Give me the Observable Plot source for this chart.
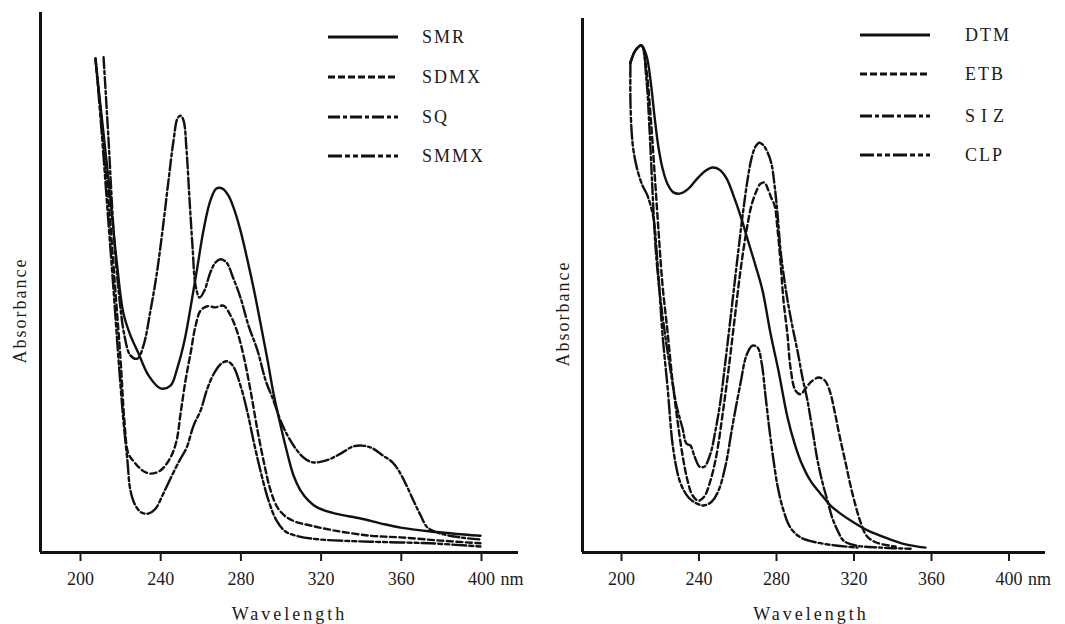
<!DOCTYPE html>
<html><head><meta charset="utf-8">
<script src="https://cdn.jsdelivr.net/npm/d3@7"></script>
<script src="https://cdn.jsdelivr.net/npm/@observablehq/plot@0.6"></script>
<style>
body{margin:0;background:#fff;}
#wrap{position:relative;width:1065px;height:624px;display:flex;font-family:"Liberation Serif","Times New Roman",Times,"DejaVu Serif",serif;color:#1a1a1a;background:#fff;}
.leg{position:absolute;height:20px;display:flex;align-items:center;font-size:18px;letter-spacing:2px;line-height:20px;}
.leg svg{display:block;}
svg text{font-family:"Liberation Serif","Times New Roman",Times,"DejaVu Serif",serif;}
</style></head><body><div id="wrap"></div>
<script>
// ---- data (wavelength in nm, absorbance in arbitrary units) ----
const ticks = [200, 240, 280, 320, 360, 400];
const leftNames = ["SMR", "SDMX", "SQ", "SMMX"];
const rightNames = ["DTM", "ETB", "SIZ", "CLP"];

const SMR_nm = [207.5,214.0,218.0,221.4,224.9,228.9,233.9,239.9,244.9,248.4,251.9,254.9,258.4,261.3,264.8,267.8,270.8,273.8,276.3,279.8,283.3,286.8,289.8,293.3,296.3,299.8,303.2,306.2,309.7,313.7,318.2,327.2,339.7,349.6,359.6,374.6,399.5];
const SMR_abs = [0.911,0.689,0.541,0.443,0.402,0.369,0.328,0.304,0.309,0.343,0.393,0.454,0.531,0.596,0.652,0.674,0.674,0.661,0.639,0.596,0.541,0.481,0.424,0.356,0.294,0.235,0.183,0.143,0.115,0.096,0.083,0.072,0.063,0.054,0.046,0.039,0.031];

const SDMX_nm = [207.5,211.0,214.0,217.0,220.0,221.9,223.9,226.9,230.9,234.9,239.9,244.9,247.9,249.9,252.4,254.9,257.4,259.9,263.3,267.3,271.3,274.8,278.3,281.3,284.8,288.3,291.8,294.8,298.3,302.2,307.2,314.7,326.2,344.6,359.6,379.6,399.5];
const SDMX_abs = [0.915,0.781,0.652,0.504,0.356,0.244,0.183,0.167,0.152,0.146,0.152,0.176,0.207,0.257,0.319,0.369,0.420,0.448,0.456,0.454,0.457,0.439,0.407,0.365,0.300,0.226,0.161,0.115,0.083,0.067,0.057,0.050,0.041,0.031,0.028,0.022,0.017];

const SQ_nm = [211.5,214.0,216.5,219.0,221.9,224.9,228.4,231.4,234.9,237.9,240.9,243.9,246.4,248.4,249.9,251.4,252.9,254.4,255.9,257.4,259.4,261.8,264.8,267.3,269.8,272.8,276.3,279.8,283.8,288.3,292.3,296.3,299.8,303.2,307.2,311.2,315.7,322.2,329.7,335.7,340.6,345.6,350.6,355.6,359.6,363.1,366.1,369.6,373.1,379.6,389.5,399.5];
const SQ_abs = [0.917,0.763,0.596,0.485,0.402,0.365,0.359,0.383,0.448,0.513,0.596,0.689,0.763,0.804,0.809,0.800,0.744,0.652,0.565,0.494,0.472,0.485,0.519,0.537,0.543,0.537,0.507,0.472,0.420,0.374,0.319,0.281,0.244,0.217,0.193,0.176,0.167,0.170,0.183,0.196,0.198,0.193,0.180,0.167,0.146,0.120,0.096,0.069,0.046,0.035,0.028,0.024];

const SMMX_nm = [207.5,210.5,213.5,216.5,219.0,221.4,223.4,224.9,227.4,230.4,233.9,237.4,240.9,244.9,248.9,252.9,256.4,259.9,263.3,266.8,270.3,273.3,276.3,279.8,283.3,286.8,290.3,293.8,297.8,302.2,308.7,319.7,344.6,374.6,399.5];
const SMMX_abs = [0.915,0.781,0.633,0.485,0.356,0.244,0.170,0.115,0.087,0.074,0.072,0.081,0.106,0.137,0.167,0.194,0.235,0.263,0.304,0.333,0.350,0.354,0.344,0.309,0.259,0.198,0.143,0.096,0.059,0.039,0.030,0.024,0.020,0.017,0.011];

const DTM_nm = [204.6,207.2,210.3,212.9,215.0,217.0,219.1,221.2,223.7,226.8,230.5,234.6,239.2,243.4,247.0,250.6,254.2,257.8,261.4,265.0,269.2,272.8,276.9,281.0,285.7,289.3,292.4,297.5,302.7,307.9,313.0,319.7,327.0,337.3,346.6,356.9];
const DTM_abs = [0.907,0.930,0.939,0.920,0.874,0.809,0.750,0.711,0.683,0.667,0.665,0.674,0.693,0.707,0.713,0.709,0.693,0.661,0.624,0.581,0.531,0.485,0.406,0.337,0.250,0.202,0.170,0.133,0.109,0.087,0.072,0.056,0.041,0.026,0.015,0.009];

const ETB_nm = [204.6,207.2,210.3,212.9,215.0,217.0,219.1,221.2,223.7,226.3,228.9,231.5,234.1,236.6,239.7,242.8,245.9,249.0,252.1,255.2,258.3,261.4,264.5,267.1,269.7,271.7,273.8,275.9,277.4,279.0,280.5,282.1,283.6,285.7,287.2,289.8,292.4,295.0,298.1,301.7,304.8,307.4,309.9,312.5,315.6,318.2,320.8,323.4,326.5,331.1,341.4];
const ETB_abs = [0.907,0.930,0.939,0.893,0.809,0.707,0.596,0.494,0.411,0.319,0.244,0.180,0.133,0.106,0.096,0.104,0.133,0.180,0.254,0.337,0.430,0.522,0.596,0.643,0.670,0.683,0.685,0.670,0.656,0.643,0.600,0.537,0.467,0.402,0.343,0.300,0.293,0.304,0.317,0.324,0.319,0.300,0.263,0.217,0.167,0.124,0.087,0.056,0.031,0.019,0.011];

const SIZ_nm = [204.6,207.2,210.3,212.9,214.5,216.0,217.5,219.6,222.2,225.3,228.4,231.5,233.5,235.6,237.7,240.3,242.8,245.9,248.5,251.1,253.7,256.3,259.4,262.5,265.0,267.1,269.2,271.2,273.3,275.4,277.4,279.0,280.5,282.1,284.1,285.7,288.3,290.8,293.4,296.0,298.6,301.2,303.7,306.3,308.9,311.5,314.6,320.8,333.7,349.2];
const SIZ_abs = [0.907,0.930,0.939,0.874,0.781,0.670,0.569,0.485,0.411,0.337,0.272,0.230,0.202,0.198,0.178,0.159,0.159,0.183,0.226,0.281,0.356,0.435,0.531,0.624,0.689,0.730,0.752,0.759,0.754,0.741,0.720,0.680,0.628,0.559,0.504,0.467,0.417,0.374,0.324,0.281,0.226,0.170,0.130,0.096,0.063,0.041,0.022,0.013,0.009,0.007];

const CLP_nm = [204.6,204.6,205.2,206.2,208.3,210.8,213.4,216.5,218.1,219.6,221.2,223.7,226.8,230.5,234.6,238.7,242.3,246.5,250.1,253.7,257.3,261.4,264.5,267.6,270.2,272.3,274.3,276.4,278.5,280.5,283.6,287.2,292.4,300.1,310.5,321.8];
const CLP_abs = [0.907,0.837,0.781,0.744,0.707,0.680,0.661,0.620,0.559,0.485,0.402,0.309,0.189,0.128,0.102,0.091,0.087,0.094,0.115,0.161,0.235,0.313,0.365,0.383,0.380,0.352,0.291,0.226,0.170,0.124,0.078,0.046,0.028,0.019,0.013,0.009];

// ---- styles ----
const dashes = [null, "6,3.5", "11,3,3,3", "14,3,4,3,4,3"];
const legendDashes = [null, "7,3", "12,3,4,3", "14,3,5,3,5,3"];
const FONT = '"Liberation Serif", "Times New Roman", Times, "DejaVu Serif", serif';

const zip = (xs, ys) => xs.map((x, i) => ({x, y: ys[i]}));

function panel(cfg) {
  const marks = [
    Plot.ruleX([cfg.xDomain[0]], {strokeWidth: 3, stroke: "#111"}),
    Plot.ruleY([0], {strokeWidth: 3, stroke: "#111"}),
    Plot.axisX({ticks, tickSize: 9, tickPadding: 11, strokeWidth: 2, label: null, fontSize: 18, fontFamily: FONT}),
    Plot.text(["nm"], {x: () => ticks[ticks.length - 1], frameAnchor: "bottom", dy: 20, lineAnchor: "top", textAnchor: "start", dx: 19, fontSize: 18, fontFamily: FONT}),
    Plot.text(["Wavelength"], {frameAnchor: "bottom", dy: 62, dx: cfg.labelDx, lineAnchor: "middle", fontSize: 18, fontFamily: FONT}),
    Plot.text(["Absorbance"], {frameAnchor: "left", rotate: -90, dx: cfg.yLabelDx, dy: cfg.yLabelDy, textAnchor: "middle", lineAnchor: "middle", fontSize: 18, fontFamily: FONT})
  ];
  cfg.series.forEach((s, i) => {
    marks.push(Plot.line(s, {x: "x", y: "y", stroke: "#111", strokeWidth: 2.4, strokeDasharray: dashes[i], curve: "catmull-rom"}));
  });
  const svg = Plot.plot({
    width: cfg.width, height: 624,
    marginLeft: cfg.marginLeft, marginRight: cfg.marginRight, marginTop: cfg.marginTop, marginBottom: 72,
    x: {domain: cfg.xDomain, label: null},
    y: {domain: cfg.yDomain, axis: null, label: null},
    style: {fontFamily: FONT, fontSize: "18px", color: "#1a1a1a", background: "#fff", overflow: "visible"},
    marks
  });
  d3.select(svg).selectAll("text").each(function () {
    const t = this.textContent;
    if (t === "Wavelength") this.setAttribute("letter-spacing", "3");
    if (t === "Absorbance") this.setAttribute("letter-spacing", "2");
  });
  return svg;
}

const wrap = document.getElementById("wrap");
wrap.appendChild(panel({
  width: 532, marginLeft: 40, marginRight: 14, marginTop: 12,
  xDomain: [180.05, 418.45], yDomain: [0, 1],
  labelDx: 10, yLabelDx: -20, yLabelDy: 28,
  series: [zip(SMR_nm, SMR_abs), zip(SDMX_nm, SDMX_abs), zip(SQ_nm, SQ_abs), zip(SMMX_nm, SMMX_abs)]
}));
wrap.appendChild(panel({
  width: 533, marginLeft: 50, marginRight: 20, marginTop: 18,
  xDomain: [179.87, 418.84], yDomain: [0, 0.989],
  labelDx: -3, yLabelDx: -19, yLabelDy: 28,
  series: [zip(DTM_nm, DTM_abs), zip(ETB_nm, ETB_abs), zip(SIZ_nm, SIZ_abs), zip(CLP_nm, CLP_abs)]
}));

// ---- legends ----
function legend(names, lineX, textX, rowsY) {
  names.forEach((name, i) => {
    const row = document.createElement("div");
    row.className = "leg";
    row.style.left = lineX + "px";
    row.style.top = (rowsY[i] - 10) + "px";
    const w = 70;
    const dash = legendDashes[i] ? `stroke-dasharray="${legendDashes[i]}"` : "";
    row.innerHTML = `<svg width="${w}" height="20"><line x1="0" x2="${w}" y1="10" y2="10" stroke="#111" stroke-width="3" ${dash}/></svg>` +
      `<span style="margin-left:${textX - lineX - w}px;${name === "SIZ" ? "letter-spacing:6px;" : ""}">${name}</span>`;
    wrap.appendChild(row);
  });
}
legend(leftNames, 328, 422, [37, 77, 117, 156]);
legend(rightNames, 860, 965, [35, 74, 116, 155]);
</script></body></html>
